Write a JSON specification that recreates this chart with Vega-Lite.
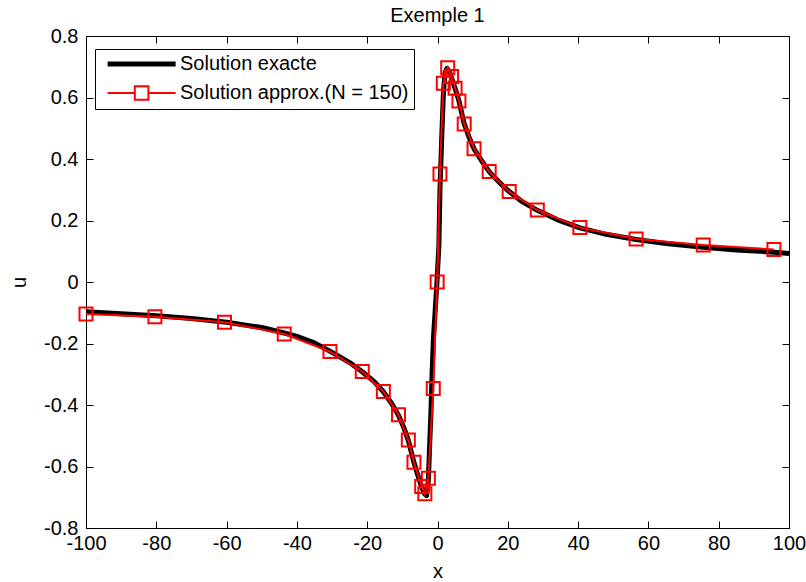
{
  "$schema": "https://vega.github.io/schema/vega-lite/v6.json",
  "width": 703,
  "height": 492,
  "autosize": "none",
  "padding": {"left": 86, "top": 36, "right": 17, "bottom": 54},
  "background": "white",
  "config": {
    "view": {"stroke": "black", "strokeWidth": 1},
    "font": "Liberation Sans",
    "axis": {
      "grid": false,
      "domainColor": "black",
      "tickColor": "black",
      "labelColor": "black",
      "titleColor": "black",
      "labelFont": "Liberation Sans",
      "labelFontSize": 20,
      "titleFont": "Liberation Sans",
      "titleFontSize": 20,
      "titleFontWeight": "normal",
      "tickSize": -7,
      "labelFlush": false,
      "labelOverlap": false
    }
  },
  "title": {"text": "Exemple 1", "font": "Liberation Sans", "fontSize": 20, "fontWeight": "normal", "color": "black", "baseline": "alphabetic", "offset": 14, "frame": "group", "dy": 30},
  "datasets": {
    "exact": [
      {"x": -100, "u": -0.097, "series": "Solution exacte"},
      {"x": -90, "u": -0.103, "series": "Solution exacte"},
      {"x": -80, "u": -0.110, "series": "Solution exacte"},
      {"x": -70, "u": -0.119, "series": "Solution exacte"},
      {"x": -60, "u": -0.131, "series": "Solution exacte"},
      {"x": -50, "u": -0.148, "series": "Solution exacte"},
      {"x": -43.6, "u": -0.166, "series": "Solution exacte"},
      {"x": -40, "u": -0.177, "series": "Solution exacte"},
      {"x": -35, "u": -0.198, "series": "Solution exacte"},
      {"x": -30, "u": -0.229, "series": "Solution exacte"},
      {"x": -25, "u": -0.262, "series": "Solution exacte"},
      {"x": -21.4, "u": -0.292, "series": "Solution exacte"},
      {"x": -18, "u": -0.324, "series": "Solution exacte"},
      {"x": -15.4, "u": -0.357, "series": "Solution exacte"},
      {"x": -13, "u": -0.396, "series": "Solution exacte"},
      {"x": -11.1, "u": -0.433, "series": "Solution exacte"},
      {"x": -9.5, "u": -0.476, "series": "Solution exacte"},
      {"x": -8.3, "u": -0.515, "series": "Solution exacte"},
      {"x": -6.7, "u": -0.587, "series": "Solution exacte"},
      {"x": -5.5, "u": -0.632, "series": "Solution exacte"},
      {"x": -4.5, "u": -0.667, "series": "Solution exacte"},
      {"x": -3.6, "u": -0.690, "series": "Solution exacte"},
      {"x": -3.1, "u": -0.695, "series": "Solution exacte"},
      {"x": -2.6, "u": -0.645, "series": "Solution exacte"},
      {"x": -2.2, "u": -0.52, "series": "Solution exacte"},
      {"x": -1.85, "u": -0.42, "series": "Solution exacte"},
      {"x": -1.55, "u": -0.30, "series": "Solution exacte"},
      {"x": -1.15, "u": -0.18, "series": "Solution exacte"},
      {"x": -0.7, "u": -0.10, "series": "Solution exacte"},
      {"x": -0.15, "u": 0.0, "series": "Solution exacte"},
      {"x": 0.4, "u": 0.12, "series": "Solution exacte"},
      {"x": 0.7, "u": 0.30, "series": "Solution exacte"},
      {"x": 1.0, "u": 0.40, "series": "Solution exacte"},
      {"x": 1.3, "u": 0.50, "series": "Solution exacte"},
      {"x": 1.7, "u": 0.62, "series": "Solution exacte"},
      {"x": 2.15, "u": 0.68, "series": "Solution exacte"},
      {"x": 2.7, "u": 0.695, "series": "Solution exacte"},
      {"x": 3.5, "u": 0.68, "series": "Solution exacte"},
      {"x": 4.4, "u": 0.65, "series": "Solution exacte"},
      {"x": 5.0, "u": 0.63, "series": "Solution exacte"},
      {"x": 6.1, "u": 0.589, "series": "Solution exacte"},
      {"x": 7.6, "u": 0.514, "series": "Solution exacte"},
      {"x": 9, "u": 0.47, "series": "Solution exacte"},
      {"x": 10.4, "u": 0.433, "series": "Solution exacte"},
      {"x": 12.5, "u": 0.395, "series": "Solution exacte"},
      {"x": 14.7, "u": 0.359, "series": "Solution exacte"},
      {"x": 17.5, "u": 0.325, "series": "Solution exacte"},
      {"x": 20.4, "u": 0.294, "series": "Solution exacte"},
      {"x": 24, "u": 0.262, "series": "Solution exacte"},
      {"x": 28.4, "u": 0.233, "series": "Solution exacte"},
      {"x": 34, "u": 0.203, "series": "Solution exacte"},
      {"x": 40.5, "u": 0.176, "series": "Solution exacte"},
      {"x": 48, "u": 0.155, "series": "Solution exacte"},
      {"x": 56.5, "u": 0.138, "series": "Solution exacte"},
      {"x": 65, "u": 0.125, "series": "Solution exacte"},
      {"x": 75.6, "u": 0.113, "series": "Solution exacte"},
      {"x": 85, "u": 0.104, "series": "Solution exacte"},
      {"x": 95.7, "u": 0.097, "series": "Solution exacte"},
      {"x": 100, "u": 0.093, "series": "Solution exacte"}
    ],
    "approx": [
      {"x": -100, "u": -0.104, "series": "Solution approx.(N = 150)"},
      {"x": -80.4, "u": -0.113, "series": "Solution approx.(N = 150)"},
      {"x": -60.6, "u": -0.131, "series": "Solution approx.(N = 150)"},
      {"x": -43.6, "u": -0.169, "series": "Solution approx.(N = 150)"},
      {"x": -30.6, "u": -0.226, "series": "Solution approx.(N = 150)"},
      {"x": -21.4, "u": -0.291, "series": "Solution approx.(N = 150)"},
      {"x": -15.4, "u": -0.356, "series": "Solution approx.(N = 150)"},
      {"x": -11.1, "u": -0.432, "series": "Solution approx.(N = 150)"},
      {"x": -8.3, "u": -0.514, "series": "Solution approx.(N = 150)"},
      {"x": -6.7, "u": -0.586, "series": "Solution approx.(N = 150)"},
      {"x": -4.5, "u": -0.665, "series": "Solution approx.(N = 150)"},
      {"x": -3.6, "u": -0.689, "series": "Solution approx.(N = 150)"},
      {"x": -2.6, "u": -0.638, "series": "Solution approx.(N = 150)"},
      {"x": -1.2, "u": -0.346, "series": "Solution approx.(N = 150)"},
      {"x": -0.1, "u": 0.0, "series": "Solution approx.(N = 150)"},
      {"x": 0.7, "u": 0.351, "series": "Solution approx.(N = 150)"},
      {"x": 1.65, "u": 0.646, "series": "Solution approx.(N = 150)"},
      {"x": 2.9, "u": 0.697, "series": "Solution approx.(N = 150)"},
      {"x": 4.0, "u": 0.668, "series": "Solution approx.(N = 150)"},
      {"x": 5.0, "u": 0.630, "series": "Solution approx.(N = 150)"},
      {"x": 6.1, "u": 0.589, "series": "Solution approx.(N = 150)"},
      {"x": 7.6, "u": 0.514, "series": "Solution approx.(N = 150)"},
      {"x": 10.4, "u": 0.433, "series": "Solution approx.(N = 150)"},
      {"x": 14.7, "u": 0.359, "series": "Solution approx.(N = 150)"},
      {"x": 20.4, "u": 0.294, "series": "Solution approx.(N = 150)"},
      {"x": 28.4, "u": 0.234, "series": "Solution approx.(N = 150)"},
      {"x": 40.5, "u": 0.177, "series": "Solution approx.(N = 150)"},
      {"x": 56.5, "u": 0.140, "series": "Solution approx.(N = 150)"},
      {"x": 75.6, "u": 0.120, "series": "Solution approx.(N = 150)"},
      {"x": 95.7, "u": 0.106, "series": "Solution approx.(N = 150)"}
    ]
  },
  "layer": [
    {
      "data": {"name": "exact"},
      "mark": {"type": "line", "strokeWidth": 5, "strokeJoin": "round", "strokeCap": "butt"},
      "encoding": {
        "x": {"field": "x", "type": "quantitative", "scale": {"domain": [-100, 100], "nice": false},
          "axis": {"values": [-100, -80, -60, -40, -20, 0, 20, 40, 60, 80, 100], "labelExpr": "'' + datum.value", "title": "x", "labelPadding": 12, "titlePadding": 8}},
        "y": {"field": "u", "type": "quantitative", "scale": {"domain": [-0.8, 0.8], "nice": false, "zero": false},
          "axis": {"values": [-0.8, -0.6, -0.4, -0.2, 0, 0.2, 0.4, 0.6, 0.8], "labelExpr": "'' + datum.value", "title": "u", "labelPadding": 15, "titlePadding": 14}},
        "color": {"field": "series", "type": "nominal",
          "scale": {"domain": ["Solution exacte", "Solution approx.(N = 150)"], "range": ["#000000", "#ff0000"]},
          "legend": {
            "title": null,
            "orient": "none",
            "legendX": 9,
            "legendY": 13,
            "padding": 5,
            "strokeColor": "black",
            "fillColor": "white",
            "symbolSize": 289,
            "labelOffset": 60,
            "labelFont": "Liberation Sans",
            "labelFontSize": 20,
            "labelColor": "black",
            "labelLimit": 400,
            "rowPadding": 8,
            "encode": {
              "symbols": {
                "update": {
                  "shape": {"signal": "datum.value === 'Solution exacte' ? 'M-0.28,0H7.72' : 'M-0.28,0H2.92M4.52,0H7.72M2.92,-0.8H4.52V0.8H2.92Z'"},
                  "strokeWidth": {"signal": "datum.value === 'Solution exacte' ? 5 : 2"},
                  "fill": {"value": "transparent"}
                }
              }
            }
          }
        }
      }
    },
    {
      "data": {"name": "approx"},
      "mark": {"type": "line", "strokeWidth": 2},
      "encoding": {
        "x": {"field": "x", "type": "quantitative", "axis": {"orient": "top", "values": [-100, -80, -60, -40, -20, 0, 20, 40, 60, 80, 100], "labels": false, "title": null}},
        "y": {"field": "u", "type": "quantitative", "axis": {"orient": "right", "values": [-0.8, -0.6, -0.4, -0.2, 0, 0.2, 0.4, 0.6, 0.8], "labels": false, "title": null}},
        "color": {"field": "series", "type": "nominal"}
      }
    },
    {
      "data": {"name": "approx"},
      "mark": {"type": "point", "shape": "square", "filled": false, "size": 169, "strokeWidth": 2, "color": "#ff0000", "opacity": 1},
      "encoding": {
        "x": {"field": "x", "type": "quantitative", "axis": null},
        "y": {"field": "u", "type": "quantitative", "axis": null}
      }
    }
  ],
  "resolve": {"axis": {"x": "independent", "y": "independent"}}
}
